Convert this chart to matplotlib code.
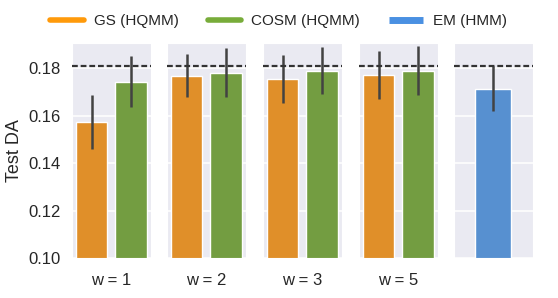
import matplotlib
matplotlib.use("Agg")
import matplotlib.pyplot as plt
from matplotlib.lines import Line2D
import seaborn as sns

sns.set_style("darkgrid")
plt.rcParams['font.family'] = ['Liberation Sans', 'DejaVu Sans']

# values
windows = ['w = 1', 'w = 2', 'w = 3', 'w = 5']
gs_mean = [0.1572, 0.1769, 0.1755, 0.1773]
gs_err = [0.0113, 0.0092, 0.0102, 0.0101]
cosm_mean = [0.1743, 0.1781, 0.1790, 0.1790]
cosm_err = [0.0107, 0.0104, 0.0100, 0.0102]
em_mean = [0.1714]
em_err = [0.0094]
baseline = 0.1808

gs_col, cosm_col, em_col = '#E08F29', '#739D41', '#5790D0'
gs_leg, cosm_leg, em_leg = '#FF9A0A', '#78AC3A', '#4A90E2'
err_col = '#424242'

fig = plt.figure(figsize=(5.58, 2.98), dpi=100)
W, H = 558.0, 298.0
lefts = [72, 167, 263, 359, 454]
pw = 78.5
bottom = (H - 258) / H
height = 215 / H

def style(ax):
    ax.set_ylim(0.10, 0.1906)
    ax.set_yticks([0.10, 0.12, 0.14, 0.16, 0.18])
    ax.grid(axis='x', visible=False)
    ax.grid(axis='y', color='white', lw=1.1)
    ax.tick_params(axis='y', labelsize=12, length=0, pad=8)
    ax.tick_params(axis='x', labelsize=12, length=0, pad=11)
    ax.axhline(baseline, color='#333333', lw=1.6, ls=(0, (2.6, 1.3)), zorder=4)

axes = []
for i, w in enumerate(windows):
    ax = fig.add_axes([lefts[i] / W, bottom, pw / W, height])
    ax.bar([0, 1], [gs_mean[i], cosm_mean[i]], width=0.8,
           color=[gs_col, cosm_col], edgecolor='white', lw=1, zorder=2)
    ax.errorbar([0, 1], [gs_mean[i], cosm_mean[i]], yerr=[gs_err[i], cosm_err[i]],
                fmt='none', ecolor=err_col, elinewidth=1.8, zorder=3)
    ax.set_xlim(-0.5, 1.5)
    style(ax)
    ax.set_xticks([0.5])
    ax.set_xticklabels([w])
    if i == 0:
        ax.yaxis.set_major_formatter(matplotlib.ticker.FormatStrFormatter('%.2f'))
        ax.set_ylabel('Test DA', fontsize=13, labelpad=4)
    else:
        ax.set_yticklabels([])
    axes.append(ax)

ax = fig.add_axes([lefts[4] / W, bottom, pw / W, height])
ax.bar([0], em_mean, width=0.46, color=em_col, edgecolor='white', lw=1, zorder=2)
ax.errorbar([0], em_mean, yerr=em_err, fmt='none', ecolor=err_col, elinewidth=1.8, zorder=3)
ax.set_xlim(-0.5, 0.5)
style(ax)
ax.set_xticks([])
ax.set_yticklabels([])

handles = [Line2D([], [], color=gs_leg, lw=4, solid_capstyle='round'),
           Line2D([], [], color=cosm_leg, lw=4, solid_capstyle='round'),
           Line2D([], [], color=em_leg, lw=5, solid_capstyle='butt')]
fig.legend(handles, ['GS (HQMM)', 'COSM (HQMM)', 'EM (HMM)'], loc='center',
           bbox_to_anchor=(0.499, 0.93), ncol=3, frameon=False, fontsize=11,
           handlelength=2.2, columnspacing=1.9, handletextpad=0.65)

fig.savefig('out.png', dpi=100)
